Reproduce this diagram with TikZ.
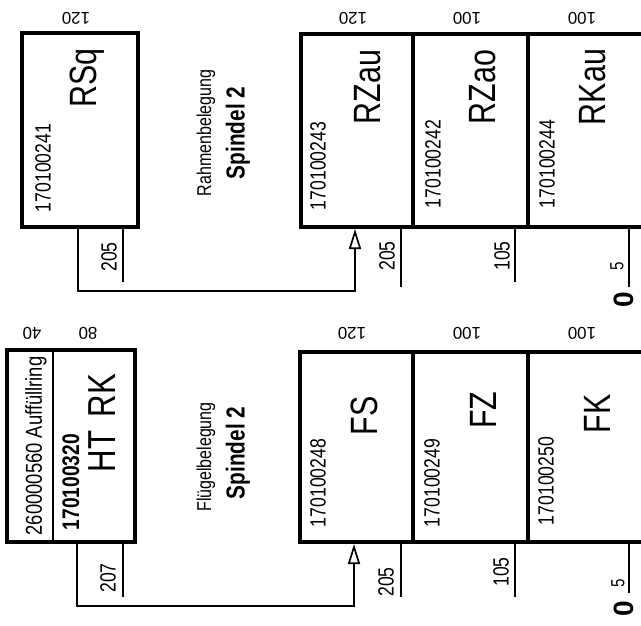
\documentclass[tikz,border=0pt]{standalone}
\usepackage{fontspec}
\setmainfont{Liberation Sans}
\newfontfamily\cond{Liberation Sans}[FakeStretch=0.8]
\usetikzlibrary{arrows.meta}
\newcommand{\fsz}[1]{\fontsize{#1}{#1}\selectfont}
\begin{document}
\begin{tikzpicture}[x=1pt,y=-1pt,
  cell/.style={draw, line width=3.4pt, inner sep=0pt, outer sep=0pt},
  thinline/.style={line width=1.7pt},
  conn/.style={line width=1.7pt, -{Triangle[open,length=20pt,width=12pt]}},
  vt/.style={inner sep=0pt, rotate=90},
  dimtxt/.style={inner sep=0pt, rotate=180, font=\fsz{17}},
  partno/.style={vt, font=\cond\fsz{22}},
  big/.style={vt, font=\cond\fsz{38}},
  tick/.style={vt, font=\cond\fsz{22}},
  small/.style={vt, font=\cond\fsz{19}},
  zero/.style={vt, font=\bfseries\fsz{28}},
  midtxt/.style={vt, font=\cond\fsz{20}},
  midbold/.style={vt, font=\cond\bfseries\fsz{26}}]
\fill[white] (0,0) rectangle (641,625);
\useasboundingbox (0,0) rectangle (641,625);
\clip (0,0) rectangle (641,625);

% ================= TOP: Rahmenbelegung =================
\node[cell, minimum width=116pt, minimum height=194pt] (rsq) at (80,130) {};
\node[dimtxt] (d120a) at (76,18) {120};
\node[partno] (prsq) at (43,168) {170100241};
\node[big] (lrsq) at (87,78) {RSq};

\node[cell, minimum width=112pt, minimum height=193pt] (rzau) at (357,130.5) {};
\node[cell, minimum width=115pt, minimum height=193pt] (rzao) at (470.5,130.5) {};
\node[cell, minimum width=140pt, minimum height=193pt] (rkau) at (598,130.5) {};
\node[dimtxt] (d120b) at (353,18) {120};
\node[dimtxt] (d100a) at (467,18) {100};
\node[dimtxt] (d100b) at (582,18) {100};
\node[partno] (przau) at (318,166) {170100243};
\node[big] (lrzau) at (368,87) {RZau};
\node[partno] (przao) at (433,164) {170100242};
\node[big] (lrzao) at (483,87) {RZao};
\node[partno] (prkau) at (547,164) {170100244};
\node[big] (lrkau) at (593,87) {RKau};

\node[midtxt] (rb) at (206,133) {Rahmenbelegung};
\node[midbold] (sp1) at (238,133) {Spindel 2};

\coordinate (s1) at (78,227);
\coordinate (s1b) at (78,291);
\coordinate (t1) at (355,291);
\coordinate (t1e) at (355,229);
\draw[conn] (s1) -- (s1b) -- (t1) -- (t1e);

\coordinate (k1a) at (123,227); \coordinate (k1b) at (123,282);
\draw[thinline] (k1a) -- (k1b);
\node[tick] (n205a) at (109,257) {205};
\coordinate (k2a) at (401,227); \coordinate (k2b) at (401,287);
\draw[thinline] (k2a) -- (k2b);
\node[tick] (n205b) at (387,256) {205};
\coordinate (k3a) at (515,227); \coordinate (k3b) at (515,282);
\draw[thinline] (k3a) -- (k3b);
\node[tick] (n105a) at (502,256) {105};
\coordinate (k4a) at (629,227); \coordinate (k4b) at (629,287);
\draw[thinline] (k4a) -- (k4b);
\node[small] (n5a) at (617,266) {5};
\node[zero] (n0a) at (624,300) {0};

% ================= BOTTOM: Flügelbelegung =================
\node[cell, minimum width=128pt, minimum height=192pt] (htbox) at (71,446) {};
\draw[line width=2.8pt] (53,350) -- (53,542);
\node[dimtxt] (d40) at (32,333) {40};
\node[dimtxt] (d80) at (88,333) {80};
\node[vt, font=\cond\fsz{23}] (auff) at (36,446) {260000560 Auffüllring};
\node[vt, font=\cond\bfseries\fsz{24}] (pht) at (71,482) {170100320};
\node[vt, font=\cond\fsz{39}] (lht) at (102,423) {HT\hspace{0.35em}RK};

\node[cell, minimum width=113pt, minimum height=190pt] (fs) at (356.5,447) {};
\node[cell, minimum width=115pt, minimum height=190pt] (fz) at (470.5,447) {};
\node[cell, minimum width=140pt, minimum height=190pt] (fk) at (598,447) {};
\node[dimtxt] (d120c) at (352,333) {120};
\node[dimtxt] (d100c) at (467,333) {100};
\node[dimtxt] (d100d) at (582,333) {100};
\node[partno] (pfs) at (318,483) {170100248};
\node[big] (lfs) at (364,416) {FS};
\node[partno] (pfz) at (432,483) {170100249};
\node[big] (lfz) at (483,410) {FZ};
\node[partno] (pfk) at (546,481) {170100250};
\node[big] (lfk) at (597,414) {FK};

\node[midtxt] (fb) at (206,457) {Flügelbelegung};
\node[midbold] (sp2) at (238,453) {Spindel 2};

\coordinate (s2) at (77,542);
\coordinate (s2b) at (77,606);
\coordinate (t2) at (354,606);
\coordinate (t2e) at (354,544);
\draw[conn] (s2) -- (s2b) -- (t2) -- (t2e);

\coordinate (m1a) at (123,542); \coordinate (m1b) at (123,597);
\draw[thinline] (m1a) -- (m1b);
\node[tick] (n207) at (108,578) {207};
\coordinate (m2a) at (401,542); \coordinate (m2b) at (401,597);
\draw[thinline] (m2a) -- (m2b);
\node[tick] (n205c) at (386,582) {205};
\coordinate (m3a) at (515,542); \coordinate (m3b) at (515,597);
\draw[thinline] (m3a) -- (m3b);
\node[tick] (n105b) at (501,572) {105};
\coordinate (m4a) at (629,542); \coordinate (m4b) at (629,593);
\draw[thinline] (m4a) -- (m4b);
\node[small] (n5b) at (618,583) {5};
\node[zero] (n0b) at (624,609) {0};
\end{tikzpicture}
\end{document}
